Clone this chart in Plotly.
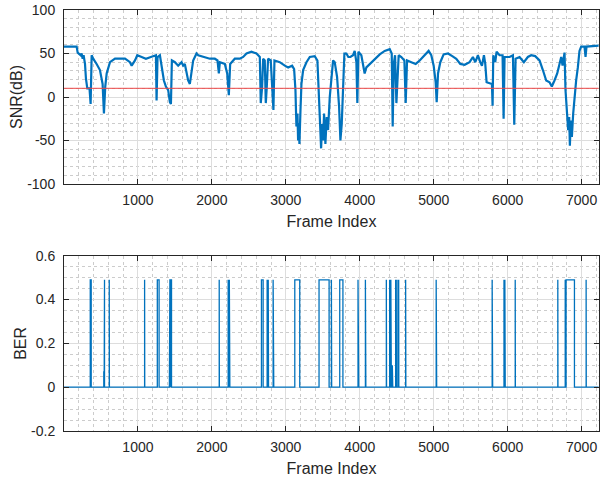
import plotly.graph_objects as go
from plotly.subplots import make_subplots

# ---------------- data ----------------
snr_frames = [0, 171, 185, 225, 238, 252, 265, 284, 297, 315, 345, 360, 374, 395, 441, 486, 522, 540, 558, 577,
              622, 690, 757, 825, 892, 915, 960, 991, 1050, 1108, 1175, 1243, 1252, 1265, 1297, 1320, 1351, 1378,
              1409, 1432, 1446, 1459, 1500, 1544, 1590, 1612, 1634, 1679, 1702, 1747, 1792,
              1815, 1905, 1972, 2040, 2076, 2094, 2108, 2175, 2207, 2229, 2247, 2310, 2378, 2423, 2468, 2535, 2603,
              2648, 2661, 2679, 2693, 2715, 2729, 2742, 2760, 2796, 2819, 2832, 2846, 2918, 2986, 3031, 3085, 3112,
              3130, 3143, 3157, 3166, 3175, 3184, 3198, 3211, 3234, 3279, 3324, 3391, 3427, 3445, 3463, 3477, 3490,
              3504, 3517, 3535, 3553, 3571, 3594, 3616,
              3639, 3661, 3693, 3720, 3738, 3756, 3774, 3792, 3819, 3845, 3873, 3909, 3931, 3954, 3967, 3981, 4021,
              4044, 4066, 4089, 4134, 4202, 4270, 4337, 4405, 4432, 4445, 4459, 4477, 4495, 4508, 4526, 4562, 4603,
              4621, 4639, 4697, 4756, 4810, 4877, 4931, 4967, 4999, 5026, 5040, 5058, 5089, 5134, 5193, 5251, 5305,
              5359, 5418,
              5485, 5530, 5562, 5598, 5629, 5652, 5679, 5697, 5715, 5769, 5787, 5796, 5805, 5832, 5850, 5890, 5931,
              5945, 5958, 6026, 6071, 6089, 6107, 6161, 6219, 6273, 6318, 6372, 6431, 6476, 6521, 6566, 6597, 6633,
              6670, 6701, 6724, 6742, 6769, 6782, 6800, 6818, 6832, 6841, 6854, 6868, 6886, 6904, 6926, 6949, 6971,
              6994, 7039, 7053, 7066, 7230]
snr_db = [58, 58, 51, 48, 50, 44, 48, 38, 21, 10, 10, -8, 48, 44, 38, 31, 15, -19, 12, 27,
          40, 44, 44, 44, 40, 36, 42, 48, 46, 44, 46, 48, -4, 46, 48, 34, 19, 12,
          8, -6, -8, 42, 40, 36, 40, 36, 38, 19, 15, 42, 50,
          48, 46, 44, 44, 42, 27, 40, 38, 27, 2, 38, 44, 44, 46, 50, 52, 50,
          46, -7, 11, 44, 42, -7, 11, 44, 42, 11, -15, 42, 40, 36, 34, 36, 32,
          8, -34, -19, -50, -30, -54, -15, 15, 31, 40, 46, 47, 42, 11, -27, -59, -31,
          -50, -19, -54, -23, -38, 0, 19,
          42, 40, 23, -11, -50, -31, 8, 50, 50, 46, 46, 48, 53, 40, -7, 52, 48,
          38, 27, 34, 38, 44, 49, 53, 55, 50, -34, 38, 48, -7, 11, 48, 46, 42,
          -7, 42, 40, 38, 42, 48, 53, 48, 36, 17, -6, 27, 40, 49, 50, 47, 44,
          38, 37,
          40, 46, 40, 48, 40, 36, 48, 38, 17, 15, 15, -10, 48, 40, 52, 48, 48,
          -25, 46, 46, 48, -32, 44, 46, 40, 46, 48, 47, 42, 31, 19, 17, 12, 19,
          27, 38, 46, 36, 51, 8, -15, -38, -23, -56, -27, -46, -19, 0, 19, 34, 53,
          58, 58, 46, 58, 59]
snr_threshold = 10

# BER bursts: start frame, end frame, level
ber_start = [355, 538, 545, 612, 1090, 1262, 1425, 1432, 1446, 2099, 2220, 2228, 2236, 2670, 2747, 2762, 2828,
             3121, 3449, 3616, 3729, 3976, 4076, 4359, 4404, 4420, 4440, 4485, 4504, 4526, 4620, 5033,
             5790, 5950, 5962, 6102, 6678, 6778, 6790, 7061]
ber_end = [368, 543, 548, 614, 1092, 1286, 1431, 1436, 1454, 2101, 2222, 2234, 2243, 2693, 2750, 2766, 2837,
           3188, 3585, 3620, 3772, 3986, 4082, 4362, 4408, 4427, 4446, 4487, 4506, 4528, 4623, 5040,
           5797, 5955, 5967, 6104, 6680, 6782, 6903, 7063]
ber_level = [0.49, 0.07, 0.49, 0.49, 0.49, 0.49, 0.07, 0.49, 0.49, 0.49, 0.49, 0.08, 0.49, 0.49, 0.49, 0.49, 0.49,
             0.49, 0.49, 0.49, 0.49, 0.49, 0.49, 0.49, 0.49, 0.49, 0.1, 0.49, 0.49, 0.49, 0.49, 0.49,
             0.49, 0.49, 0.49, 0.49, 0.49, 0.49, 0.49, 0.49]
frame_first, frame_last = 1, 7230

snr_ticks = [-100, -50, 0, 50, 100]
snr_ticktext = ["-100", "-50", "0", "50", "100"]
ber_ticks = [-0.2, 0, 0.2, 0.4, 0.6]
ber_ticktext = ["-0.2", "0", "0.2", "0.4", "0.6"]
frame_ticks = [1000, 2000, 3000, 4000, 5000, 6000, 7000]
frame_ticktext = ["1000", "2000", "3000", "4000", "5000", "6000", "7000"]

# build BER step trace from bursts
ber_x = [frame_first]
ber_y = [0]
for a, b, h in zip(ber_start, ber_end, ber_level):
    ber_x += [a, a, b, b]
    ber_y += [0, h, h, 0]
ber_x.append(frame_last)
ber_y.append(0)

BLUE = "#0072BD"
AX = "#262626"
FONT = "Liberation Sans, Arial, Helvetica, sans-serif"

fig = make_subplots(rows=2, cols=1, vertical_spacing=0.17)
fig.add_trace(go.Scatter(x=snr_frames, y=snr_db, mode="lines",
                         line=dict(color=BLUE, width=2.2), showlegend=False), row=1, col=1)
fig.add_trace(go.Scatter(x=[frame_first, frame_last], y=[snr_threshold, snr_threshold], mode="lines",
                         line=dict(color="rgb(235,70,70)", width=1), showlegend=False), row=1, col=1)
fig.add_trace(go.Scatter(x=ber_x, y=ber_y, mode="lines",
                         line=dict(color=BLUE, width=1.3), showlegend=False), row=2, col=1)

xcommon = dict(range=[0, 7235], tickmode="array", tickvals=frame_ticks, ticktext=frame_ticktext,
               showline=True, linecolor=AX, linewidth=1, mirror="ticks", ticks="inside", ticklen=5,
               tickcolor=AX, showgrid=True, gridcolor="#dddddd", gridwidth=1, zeroline=False,
               automargin=False,
               tickfont=dict(size=14, color=AX, family=FONT), ticklabelstandoff=3,
               minor=dict(tickmode="linear", tick0=0, dtick=200, showgrid=True, gridcolor="#cccccc",
                          griddash="dot", gridwidth=1, ticks=""),
               title=dict(text="Frame Index", font=dict(size=16, color=AX, family=FONT), standoff=9))
ycommon = dict(showline=True, linecolor=AX, linewidth=1, mirror="ticks", ticks="inside", ticklen=5,
               tickcolor=AX, showgrid=True, gridcolor="#dddddd", gridwidth=1, zeroline=False,
               automargin=False,
               tickfont=dict(size=14, color=AX, family=FONT), ticklabelstandoff=5)

fig.update_xaxes(**xcommon, row=1, col=1)
fig.update_xaxes(**xcommon, row=2, col=1)
fig.update_yaxes(**ycommon, range=[-100, 100], tickmode="array", tickvals=snr_ticks, ticktext=snr_ticktext,
                 minor=dict(tickmode="linear", tick0=0, dtick=10, showgrid=True, gridcolor="#cccccc",
                            griddash="dot", gridwidth=1, ticks=""),
                 title=dict(text="SNR(dB)", font=dict(size=16, color=AX, family=FONT), standoff=0),
                 row=1, col=1)
fig.update_yaxes(**ycommon, range=[-0.2, 0.6], tickmode="array", tickvals=ber_ticks, ticktext=ber_ticktext,
                 minor=dict(tickmode="linear", tick0=0, dtick=0.05, showgrid=True, gridcolor="#cccccc",
                            griddash="dot", gridwidth=1, ticks=""),
                 title=dict(text="BER", font=dict(size=16, color=AX, family=FONT), standoff=0),
                 row=2, col=1)

fig.update_layout(
    width=600, height=481,
    margin=dict(l=64, r=1, t=10, b=50, autoexpand=False),
    paper_bgcolor="white", plot_bgcolor="white",
    font=dict(family=FONT, color=AX),
)
fig.layout.yaxis.domain = [0.5867, 1.0]
fig.layout.yaxis2.domain = [0.0, 0.4164]

fig.write_html("out.html", config={"displayModeBar": False},
               post_script="document.body.style.margin='0';document.body.style.overflow='hidden';")
